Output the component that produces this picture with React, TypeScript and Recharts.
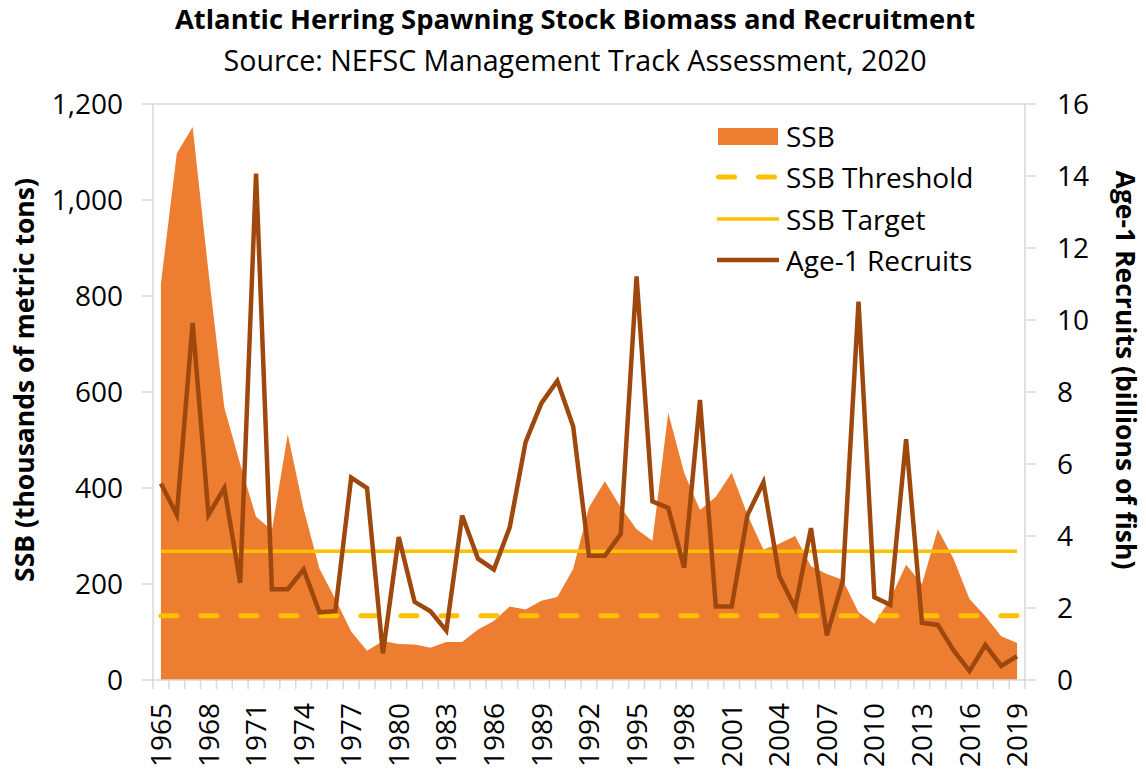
import { ComposedChart, Area, Line, XAxis, YAxis, ReferenceLine } from "recharts";

const YEARS = [
  1965, 1966, 1967, 1968, 1969, 1970, 1971, 1972, 1973, 1974, 1975, 1976, 1977, 1978,
  1979, 1980, 1981, 1982, 1983, 1984, 1985, 1986, 1987, 1988, 1989, 1990, 1991, 1992,
  1993, 1994, 1995, 1996, 1997, 1998, 1999, 2000, 2001, 2002, 2003, 2004, 2005, 2006,
  2007, 2008, 2009, 2010, 2011, 2012, 2013, 2014, 2015, 2016, 2017, 2018, 2019,
];

// thousands of metric tons
const SSB = [
  826, 1097, 1152, 850, 567, 450, 340, 312, 512, 356, 232, 169, 101, 61,
  81, 75, 74, 67, 79, 79, 105, 123, 153, 147, 165, 173, 231, 360,
  414, 360, 314, 290, 557, 432, 354, 382, 432, 344, 272, 284, 300, 237,
  221, 209, 141, 117, 169, 240, 200, 314, 252, 169, 133, 91, 77,
];

// billions of fish
const RECRUITS = [
  5.46, 4.59, 9.92, 4.59, 5.33, 2.7, 14.07, 2.52, 2.52, 3.07, 1.88, 1.91, 5.62, 5.33,
  0.74, 3.97, 2.17, 1.91, 1.37, 4.57, 3.37, 3.07, 4.24, 6.61, 7.69, 8.31, 7.05, 3.45,
  3.45, 4.05, 11.21, 4.96, 4.78, 3.12, 7.78, 2.04, 2.04, 4.59, 5.49, 2.89, 2.0, 4.22,
  1.24, 2.73, 10.51, 2.3, 2.09, 6.69, 1.59, 1.53, 0.82, 0.25, 0.97, 0.39, 0.66,
];

const SSB_THRESHOLD = 134;
const SSB_TARGET = 268;

const LEFT_TICKS = [0, 200, 400, 600, 800, 1000, 1200];
const RIGHT_TICKS = [0, 2, 4, 6, 8, 10, 12, 14, 16];

const data = YEARS.map((year, i) => ({
  year,
  ssb: SSB[i],
  threshold: SSB_THRESHOLD,
  target: SSB_TARGET,
  recruits: RECRUITS[i],
}));

const ORANGE = "#ED7D31";
const GOLD = "#FFC000";
const BROWN = "#9E480E";
const GRID = "#d9d9d9";
const FONT = "'Open Sans', sans-serif";

const PLOT_LEFT = 153;
const PLOT_RIGHT = 1025;
const PLOT_BOTTOM = 680;
const BAND = (PLOT_RIGHT - PLOT_LEFT) / YEARS.length;

function XTick(props: any) {
  const { x, payload, index } = props;
  const half = BAND / 2;
  return (
    <g>
      <line x1={x - half} y1={PLOT_BOTTOM} x2={x - half} y2={PLOT_BOTTOM + 9} stroke={GRID} strokeWidth={1.5} />
      {index === YEARS.length - 1 && (
        <line x1={x + half} y1={PLOT_BOTTOM} x2={x + half} y2={PLOT_BOTTOM + 9} stroke={GRID} strokeWidth={1.5} />
      )}
      {index % 3 === 0 && (
        <text
          x={x}
          y={703}
          dy="0.36em"
          textAnchor="end"
          transform={`rotate(-90, ${x}, 703)`}
          fontSize={28}
          fontFamily={FONT}
          fill="#000"
        >
          {payload.value}
        </text>
      )}
    </g>
  );
}

function AxisTitle({ tx, ty, rot, text }: any) {
  return (
    <text
      x={tx}
      y={ty}
      textAnchor="middle"
      dominantBaseline="central"
      transform={`rotate(${rot}, ${tx}, ${ty})`}
      fontSize={26.5}
      fontWeight={700}
      fontFamily={FONT}
      fill="#000"
    >
      {text}
    </text>
  );
}

const legendItems = [
  { name: "SSB", kind: "area" },
  { name: "SSB Threshold", kind: "dash" },
  { name: "SSB Target", kind: "target" },
  { name: "Age-1 Recruits", kind: "line" },
];

function ChartLegend() {
  return (
    <div style={{ position: "absolute", left: 714, top: 115, fontFamily: FONT }}>
      {legendItems.map((item) => (
        <div key={item.name} style={{ display: "flex", alignItems: "center", height: 41.5 }}>
          <svg width={68} height={20} style={{ flexShrink: 0 }}>
            {item.kind === "area" && <rect x={4} y={2} width={60} height={17} fill={ORANGE} />}
            {item.kind === "dash" && (
              <line x1={4.5} y1={10} x2={64} y2={10} stroke={GOLD} strokeWidth={5} strokeDasharray="16 24" strokeLinecap="round" />
            )}
            {item.kind === "target" && <line x1={3} y1={10} x2={65} y2={10} stroke={GOLD} strokeWidth={3.5} />}
            {item.kind === "line" && <line x1={3} y1={10} x2={65} y2={10} stroke={BROWN} strokeWidth={4.5} />}
          </svg>
          <span style={{ fontSize: 28, color: "#000", marginLeft: 4, lineHeight: 1, whiteSpace: "nowrap" }}>
            {item.name}
          </span>
        </div>
      ))}
    </div>
  );
}

export default function App() {
  return (
    <div style={{ position: "absolute", left: 0, top: 0, width: 1146, height: 773, background: "#fff" }}>
      <div
        style={{
          position: "absolute",
          left: 0,
          top: 0,
          width: 1150,
          textAlign: "center",
          fontFamily: FONT,
          color: "#000",
        }}
      >
        <div style={{ fontSize: 27.4, fontWeight: 700, lineHeight: "38px" }}>
          Atlantic Herring Spawning Stock Biomass and Recruitment
        </div>
        <div style={{ fontSize: 28.6, lineHeight: "40px", marginTop: 2 }}>
          Source: NEFSC Management Track Assessment, 2020
        </div>
      </div>

      <ComposedChart
        width={1146}
        height={773}
        data={data}
        margin={{ top: 104, right: 0, bottom: 0, left: 0 }}
        style={{ position: "absolute", left: 0, top: 0 }}
      >
        <XAxis
          dataKey="year"
          height={93}
          interval={0}
          padding={{ left: BAND / 2, right: BAND / 2 }}
          tickLine={false}
          axisLine={{ stroke: GRID, strokeWidth: 1.5 }}
          tick={<XTick />}
        />
        <YAxis
          yAxisId="left"
          domain={[0, 1200]}
          ticks={LEFT_TICKS}
          width={153}
          tickSize={11}
          tickMargin={19}
          axisLine={{ stroke: GRID, strokeWidth: 1.5 }}
          tickLine={{ stroke: GRID, strokeWidth: 1.5 }}
          tickFormatter={(v: number) => v.toLocaleString("en-US")}
          tick={{ fontSize: 28, fontFamily: FONT, fill: "#000" }}
          label={<AxisTitle tx={24} ty={380} rot={-90} text="SSB (thousands of metric tons)" />}
        />
        <YAxis
          yAxisId="right"
          orientation="right"
          domain={[0, 16]}
          ticks={RIGHT_TICKS}
          width={121}
          tickSize={11}
          tickMargin={21}
          axisLine={{ stroke: GRID, strokeWidth: 1.5 }}
          tickLine={{ stroke: GRID, strokeWidth: 1.5 }}
          tick={{ fontSize: 28, fontFamily: FONT, fill: "#000", textAnchor: "start" }}
          label={<AxisTitle tx={1126} ty={370} rot={90} text="Age-1 Recruits (billions of fish)" />}
        />
        <ReferenceLine yAxisId="left" y={1200} stroke={GRID} strokeWidth={1.5} />
        <Area
          yAxisId="left"
          type="linear"
          dataKey="ssb"
          fill={ORANGE}
          fillOpacity={1}
          stroke="none"
          isAnimationActive={false}
        />
        <Line
          yAxisId="left"
          type="linear"
          dataKey="threshold"
          stroke={GOLD}
          strokeWidth={5}
          strokeDasharray="16 24"
          strokeLinecap="round"
          dot={false}
          activeDot={false}
          isAnimationActive={false}
        />
        <Line
          yAxisId="left"
          type="linear"
          dataKey="target"
          stroke={GOLD}
          strokeWidth={3.5}
          dot={false}
          activeDot={false}
          isAnimationActive={false}
        />
        <Line
          yAxisId="right"
          type="linear"
          dataKey="recruits"
          stroke={BROWN}
          strokeWidth={4.5}
          dot={false}
          activeDot={false}
          isAnimationActive={false}
        />
      </ComposedChart>

      <ChartLegend />
    </div>
  );
}
